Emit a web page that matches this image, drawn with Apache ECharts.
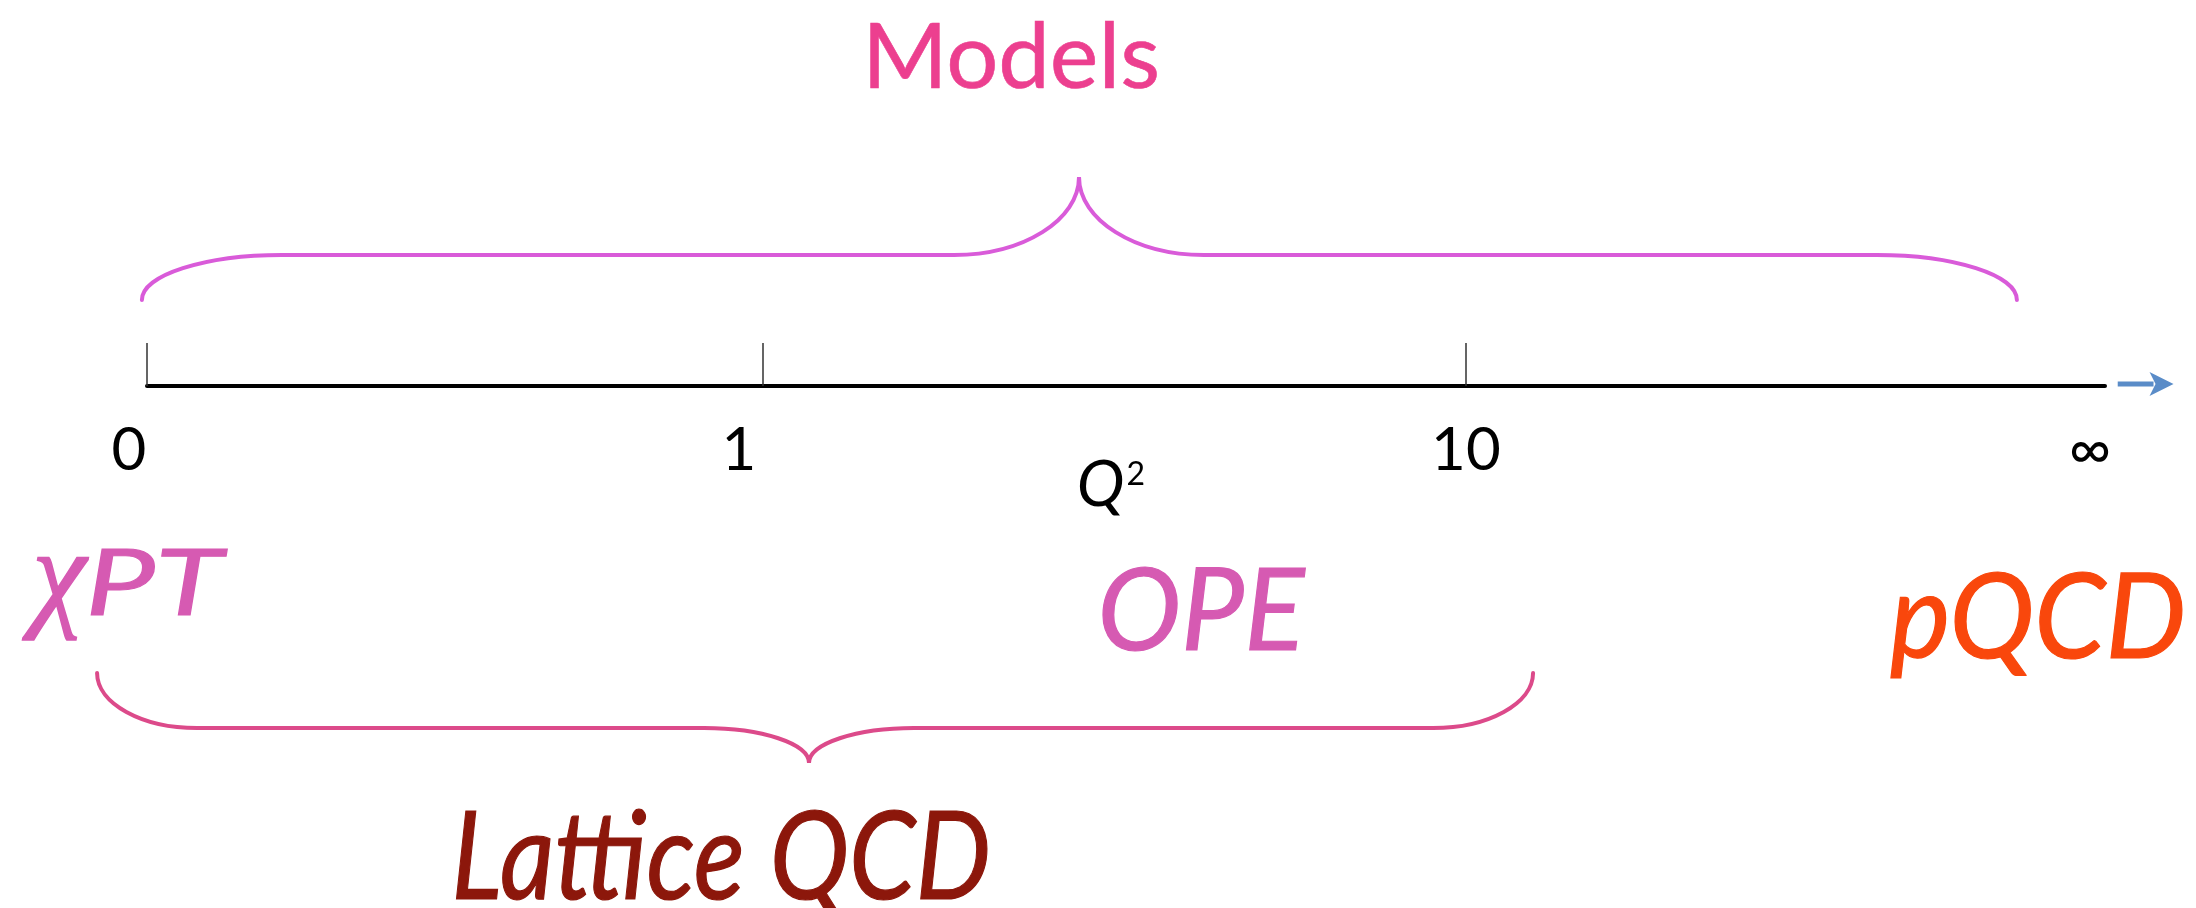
<!DOCTYPE html>
<html>
<head>
<meta charset="utf-8">
<script src="https://cdn.jsdelivr.net/npm/echarts@6/dist/echarts.min.js"></script>
<style>html,body{margin:0;padding:0;background:#fff}#c{width:2196px;height:908px}</style>
</head>
<body>
<div id="c"></div>
<script>
// ---- Q² scale (diagram position units, axis runs 0..100) ----
const tickNames = ['0', '1', '10', '∞'];
const tickPositions = [0, 31.46, 67.36, 100];
const tickedCount = 3;               // the first three carry a tick mark
const axisNameBase = 'Q';
const axisNameSup = '2';

// ---- regions (braces) : from, to, apex position, end level, flat level, apex level ----
const braceNames = ['Models', 'Lattice QCD'];
const braceFrom = [-0.26, -2.55];
const braceTo = [95.5, 70.79];
const braceApexAt = [47.6, 33.81];
const braceEndLevel = [86, -287];
const braceFlatLevel = [131, -342];
const braceApexLevel = [209, -377];

// ---- annotations ----
const noteTexts = ['Models', 'χ', 'PT', 'OPE', 'pQCD', 'Lattice QCD'];
const noteX = [44.13, -4.49, 0.36, 53.83, 96.58, 29.32];
const noteY = [328, -196, -199, -227, -234, -474];

// ---- direction arrow after the axis ----
const arrowFrom = [100.65];
const arrowTo = [103.5];

// ---- styles ----
const noteStyles = [
  {size: 92, italic: false, family: 'Lato', color: '#ec3f8f', scaleX: 1, stroke: 0.6},
  {size: 122, italic: true, family: 'Liberation Serif', color: '#d65ab2', scaleX: 1, stroke: 1.5},
  {size: 92, italic: true, family: 'Lato', color: '#d65ab2', scaleX: 1.35, stroke: 1},
  {size: 115, italic: true, family: 'Lato', color: '#d65ab2', scaleX: 0.975, stroke: 1.2},
  {size: 118, italic: true, family: 'Lato', color: '#f9470c', scaleX: 0.965, stroke: 1.2},
  {size: 122, italic: true, family: 'Lato', color: '#8c170b', scaleX: 0.873, stroke: 1.2}
];
const braceStyles = [
  {color: '#d95bd9', width: 4, corner: 140, tipHalf: 125},
  {color: '#dc4a8a', width: 4, corner: 100, tipHalf: 105}
];
const labelShift = [36, 48, 0, 30];

const chart = echarts.init(document.getElementById('c'), null, {renderer: 'canvas'});

const rich = {};
tickNames.forEach((t, i) => {
  rich['l' + i] = {
    fontFamily: 'Lato', fontSize: i === 3 ? 58 : 60, color: '#000',
    padding: [0, labelShift[i], 0, 0]
  };
});

const option = {
  backgroundColor: '#fff',
  animation: false,
  grid: {left: 147, right: 91, top: 0, bottom: 522, containLabel: false},
  xAxis: {
    type: 'value', min: 0, max: 100,
    splitLine: {show: false},
    axisLine: {show: true, onZero: false, lineStyle: {color: '#000', width: 4}},
    axisTick: {show: true, inside: true, length: 43, customValues: tickPositions.slice(0, tickedCount),
      lineStyle: {color: '#333', width: 1.5}},
    axisLabel: {
      show: true, customValues: tickPositions, margin: 35,
      formatter: function (v) {
        let best = 0;
        tickPositions.forEach((p, i) => { if (Math.abs(p - v) < Math.abs(tickPositions[best] - v)) best = i; });
        return '{l' + best + '|' + tickNames[best] + '}';
      },
      rich: rich
    },
    name: '{q|' + axisNameBase + '}{s|' + axisNameSup + '}', nameLocation: 'middle', nameGap: 67,
    nameMoveOverlap: false,
    nameTextStyle: {
      color: '#000', padding: [0, 30, 0, 0],
      rich: {
        q: {fontFamily: 'Lato', fontStyle: 'italic', fontSize: 64, color: '#000', lineHeight: 64},
        s: {fontFamily: 'Lato', fontSize: 32, color: '#000', verticalAlign: 'top', lineHeight: 32, padding: [6, 0, 0, 2]}
      }
    }
  },
  yAxis: {type: 'value', min: 0, max: 386, show: false, splitLine: {show: false}},
  series: [
    {
      type: 'custom', name: 'braces', silent: true, clip: false,
      encode: {x: [0, 1, 2], y: [3, 4, 5]},
      data: braceNames.map((n, i) => [braceFrom[i], braceTo[i], braceApexAt[i], braceEndLevel[i], braceFlatLevel[i], braceApexLevel[i]]),
      renderItem: function (params, api) {
        const st = braceStyles[params.dataIndex];
        const L = api.coord([api.value(0), api.value(3)]);
        const R = api.coord([api.value(1), api.value(3)]);
        const T = api.coord([api.value(2), api.value(5)]);
        const yf = api.coord([0, api.value(4)])[1];
        const r = st.corner, h = st.tipHalf, k = 0.5523;
        const xl = L[0], ye = L[1], xr = R[0], xt = T[0], yt = T[1];
        const d = [
          'M' + xl + ',' + ye,
          'C' + xl + ',' + (ye + k * (yf - ye)) + ' ' + (xl + r - k * r) + ',' + yf + ' ' + (xl + r) + ',' + yf,
          'L' + (xt - h) + ',' + yf,
          'C' + (xt - h + k * h) + ',' + yf + ' ' + xt + ',' + (yt + k * (yf - yt)) + ' ' + xt + ',' + yt,
          'C' + xt + ',' + (yt + k * (yf - yt)) + ' ' + (xt + h - k * h) + ',' + yf + ' ' + (xt + h) + ',' + yf,
          'L' + (xr - r) + ',' + yf,
          'C' + (xr - r + k * r) + ',' + yf + ' ' + xr + ',' + (ye + k * (yf - ye)) + ' ' + xr + ',' + ye
        ].join(' ');
        return {type: 'path', shape: {pathData: d}, style: {stroke: st.color, lineWidth: st.width, fill: 'none', lineCap: 'round'}};
      }
    },
    {
      type: 'custom', name: 'arrow', silent: true, clip: false,
      encode: {x: [0, 1], y: 2},
      data: arrowFrom.map((a, i) => [a, arrowTo[i], 0]),
      renderItem: function (params, api) {
        const A = api.coord([api.value(0), api.value(2)]);
        const B = api.coord([api.value(1), api.value(2)]);
        const y = A[1] - 2;
        const headLen = 24, headHalf = 12, color = '#5a8cc8';
        return {
          type: 'group',
          children: [
            {type: 'line', shape: {x1: A[0], y1: y, x2: B[0] - headLen + 4, y2: y}, style: {stroke: color, lineWidth: 5}},
            {type: 'polygon', shape: {points: [[B[0], y], [B[0] - headLen, y - headHalf], [B[0] - headLen + 6, y], [B[0] - headLen, y + headHalf]]},
              style: {fill: color}}
          ]
        };
      }
    },
    {
      type: 'custom', name: 'notes', silent: true, clip: false,
      encode: {x: 0, y: 1},
      data: noteTexts.map((t, i) => [noteX[i], noteY[i], i]),
      renderItem: function (params, api) {
        const i = api.value(2);
        const s = noteStyles[i];
        const p = api.coord([api.value(0), api.value(1)]);
        return {
          type: 'text', x: p[0], y: p[1], scaleX: s.scaleX, scaleY: 1,
          style: {
            text: noteTexts[i], fill: s.color, stroke: s.color, lineWidth: s.stroke,
            fontSize: s.size, fontFamily: s.family, fontStyle: s.italic ? 'italic' : 'normal',
            align: 'center', verticalAlign: 'middle'
          }
        };
      }
    }
  ]
};
chart.setOption(option);
</script>
</body>
</html>
